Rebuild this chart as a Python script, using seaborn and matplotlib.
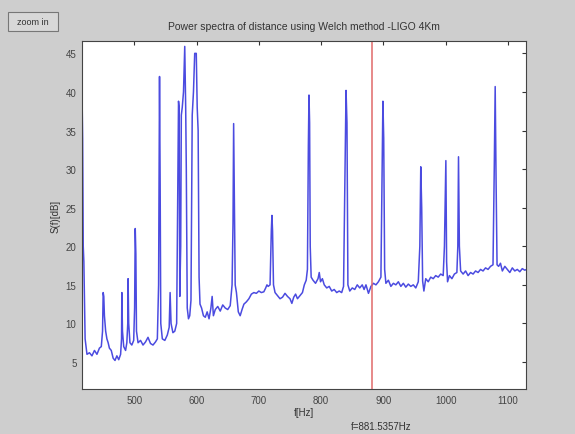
import matplotlib
matplotlib.use("Agg")
import matplotlib.pyplot as plt
import seaborn as sns
import pandas as pd
from matplotlib.patches import FancyBboxPatch

# ---- data ----
freq_hz = [416, 417, 418, 419, 421, 424, 428, 432, 436, 440, 444, 447, 449, 450, 451, 452, 454, 456, 458, 460,
           463, 466, 469, 472, 475, 478, 479.5, 480, 481, 483, 486, 488, 489.5, 490, 491, 493, 496, 499, 500.5, 501.5,
           502.5, 503.5, 506, 510, 514, 518, 522, 526, 530, 534, 537, 539, 540.5, 541.5, 542.5, 545, 549, 553, 556, 557.5,
           559, 562, 565, 568, 570, 571, 572, 573, 574.5, 575.5, 577, 579, 581, 582.5, 583.5, 585, 587, 589, 591, 593,
           595, 597, 599.5, 601, 602.5, 604, 605.5, 608, 611, 614, 617, 620, 623, 625, 627, 630, 634, 638, 642, 646,
           650, 654, 657, 658.5, 659.5, 660.5, 662, 664, 667, 670, 673, 676, 680, 684, 688, 692, 696, 700, 704, 708,
           711, 713, 715, 718, 720, 721, 722, 723.5, 726, 730, 734, 738, 742, 746, 750, 753, 756, 759, 762, 766,
           770, 773, 776, 778, 779.5, 780.5, 781.5, 782.5, 784, 787, 791, 795, 797, 799, 802, 805, 809, 813, 817, 821,
           825, 829, 833, 836, 838.5, 840, 841.5, 843, 846, 850, 854, 858, 862, 866, 869, 872, 876, 880, 884, 888,
           892, 896, 898, 899.2, 900.5, 902, 904, 908, 912, 916, 920, 924, 928, 932, 936, 940, 944, 948, 952, 956,
           958.5, 960, 961.5, 963, 965, 968, 972, 976, 980, 984, 988, 992, 996, 998, 1000.3, 1001.5, 1003, 1006, 1010, 1014,
           1018, 1019.5, 1020.6, 1022, 1024, 1028, 1032, 1036, 1040, 1044, 1048, 1052, 1056, 1060, 1064, 1068, 1072, 1076, 1078, 1079.5,
           1081, 1082.5, 1085, 1088, 1091, 1095, 1099, 1103, 1107, 1111, 1115, 1119, 1123, 1127, 1130]
power_db = [40, 34, 20, 18, 8, 6, 6.2, 5.8, 6.5, 6.0, 6.8, 7, 9, 14, 13.5, 11, 9, 8, 7.5, 6.8,
            6.5, 5.5, 5.2, 5.8, 5.3, 6, 8, 14, 9, 7, 6.5, 7.5, 10, 15.8, 10, 7.5, 7.2, 7.8, 12, 22.3,
            19, 9, 7.5, 7.8, 7.2, 7.6, 8.2, 7.4, 7.2, 7.6, 8, 15, 42, 28, 10, 8, 7.8, 8.5, 9.5, 14,
            10, 8.8, 9, 10, 30, 38.8, 38, 13.5, 20, 37, 38, 40, 45.9, 38, 30, 12, 10.6, 11, 13, 37,
            40, 45, 45, 38, 35, 16, 12.5, 12, 11, 10.8, 11.5, 10.6, 12, 13.5, 11, 11.8, 12.2, 11.6, 12.4, 12,
            11.8, 12.3, 15, 23, 35.9, 28, 15, 14, 11.5, 11, 11.8, 12.5, 12.8, 13.2, 13.8, 14, 13.9, 14.2, 14, 14.1,
            14.6, 15, 14.8, 15, 22, 24, 22, 15, 14, 13.6, 13.2, 13.4, 13.9, 13.5, 13.2, 12.6, 13.4, 13.8, 13.2, 13.6,
            14, 15, 15.6, 17, 33, 39.6, 36, 20, 16, 15.6, 15.2, 15.8, 16.6, 15.4, 15.8, 15, 14.6, 14.8, 14.2, 14.4,
            14, 14.2, 14, 14.8, 30, 40.2, 36, 15, 14.2, 14.6, 14.4, 15, 14.6, 15, 14.4, 15, 13.9, 14.8, 15.2, 15,
            15.4, 16, 30, 38.8, 34, 17, 15.2, 15.6, 14.8, 15.2, 15, 15.4, 14.8, 15.2, 14.7, 15.1, 14.8, 15, 14.6, 15.4,
            20, 30.3, 25, 15.5, 14.2, 15.8, 15.4, 16, 15.8, 16.2, 16, 16.4, 16.2, 20, 31.1, 18, 15.4, 16.2, 15.8, 16.4,
            16.6, 20, 31.6, 20, 16.8, 16.4, 16.8, 16.2, 16.6, 16.4, 16.8, 16.6, 17, 16.8, 17.2, 17, 17.4, 17.6, 30, 40.7,
            28, 17.6, 17.4, 17.8, 16.8, 17.4, 17, 16.6, 17.2, 16.8, 17, 16.7, 17.1, 16.9, 17]
x_ticks = [500, 600, 700, 800, 900, 1000, 1100]
y_ticks = [5, 10, 15, 20, 25, 30, 35, 40, 45]
cursor_freq = 881.5357

title_text = "Power spectra of distance using Welch method -LIGO 4Km"
x_label = "f[Hz]"
y_label = "S(f)[dB]"
button_text = "zoom in"

df = pd.DataFrame({"f": freq_hz, "S": power_db})

sns.set_theme(style="white")
plt.rcParams["font.family"] = ["Liberation Sans", "DejaVu Sans"]

fig = plt.figure(figsize=(5.75, 4.35), dpi=100)
fig.patch.set_facecolor("#cecece")
ax = fig.add_axes([0.1426, 0.1034, 0.7722, 0.80])
ax.set_facecolor("white")

sns.lineplot(data=df, x="f", y="S", ax=ax, color="#4b4be0", linewidth=1.1,
             estimator=None, sort=False)
ax.axvline(cursor_freq, color="#e06a6a", linewidth=1.1)

ax.set_xlim(416, 1129)
ax.set_ylim(1.5, 46.6)
ax.set_xticks(x_ticks)
ax.set_yticks(y_ticks)
ax.tick_params(direction="in", length=3, width=0.8, colors="#333333",
               labelsize=7, top=True, right=True, labelcolor="#444444", pad=4)
for s in ax.spines.values():
    s.set_color("#444444")
    s.set_linewidth(0.8)
ax.set_xlabel(x_label, fontsize=7, color="#333333", labelpad=2)
ax.set_ylabel(y_label, fontsize=7, color="#333333", labelpad=4)
ax.set_title(title_text, fontsize=7.5, color="#333333", pad=9)

# zoom-in button
btn = FancyBboxPatch((8 / 575, 1 - 32 / 435), 50 / 575, 19 / 435,
                     boxstyle="square,pad=0", transform=fig.transFigure,
                     facecolor="#d8d8d8", edgecolor="#777777", linewidth=0.8)
fig.patches.append(btn)
fig.text(33 / 575, 1 - 22.5 / 435, button_text, ha="center", va="center",
         fontsize=6.5, color="#333333")

# cursor readout
fig.text(381 / 575, 1 - 427 / 435, "f=%.4fHz" % cursor_freq, ha="center", va="center",
         fontsize=7, color="#333333")

fig.savefig("out.png", dpi=100, facecolor=fig.get_facecolor())
